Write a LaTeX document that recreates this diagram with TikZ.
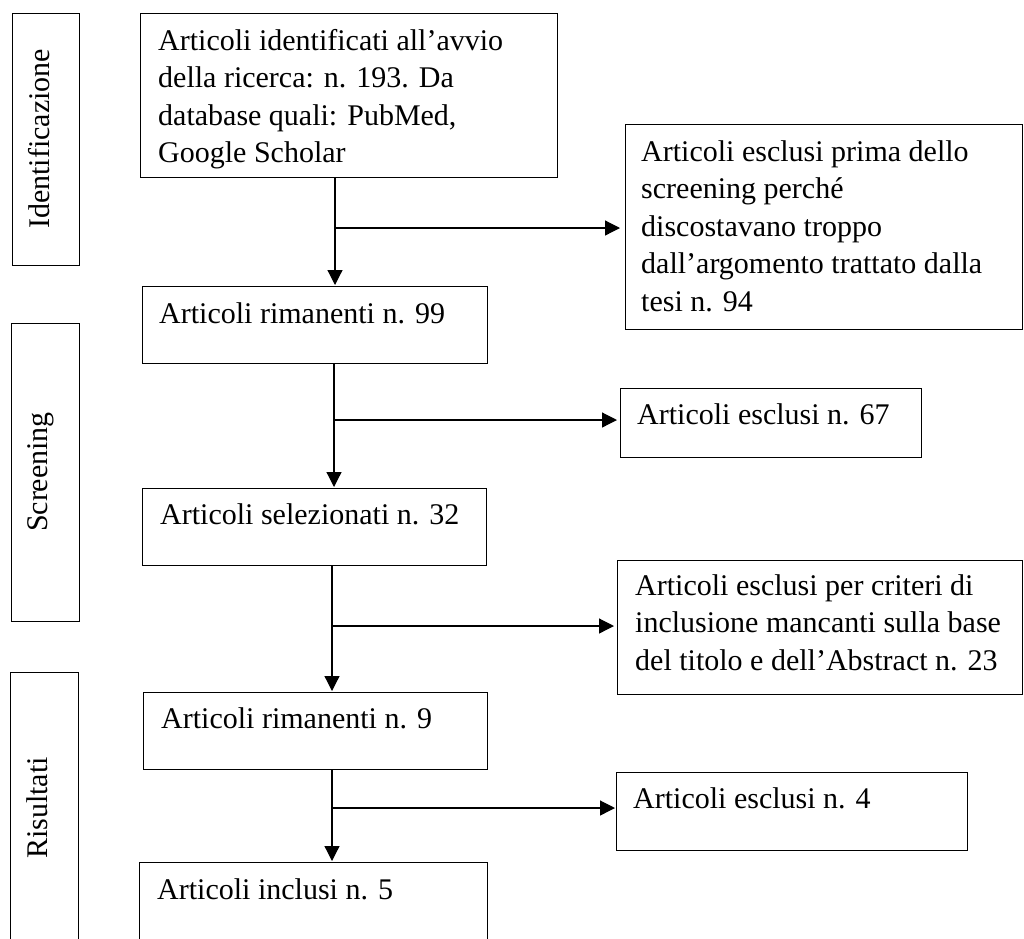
\documentclass[tikz,border=0pt]{standalone}
\usepackage{fontspec}
\setmainfont{Liberation Serif}
\usetikzlibrary{arrows.meta}
\newcommand{\boxlines}[1]{\parbox[t]{440pt}{#1}}
\begin{document}
\begin{tikzpicture}[x=1pt,y=-1pt,
  frame/.style={draw=black, line width=1.3pt, inner sep=0pt, anchor=north west},
  txt/.style={anchor=base west, inner sep=0pt, font=\fontsize{30}{37.5}\selectfont},
  lab/.style={anchor=base, rotate=90, inner sep=0pt, font=\fontsize{30}{36}\selectfont},
  arr/.style={draw=black, line width=1.2pt, -{Triangle[length=15pt,width=15pt]}}]
\useasboundingbox (0,0) rectangle (1024,938);

% phase frames
\node[frame, minimum width=67pt, minimum height=252pt] (L1) at (12,13) {};
\node[frame, minimum width=68pt, minimum height=298pt] (L2) at (11,323) {};
\node[frame, minimum width=68pt, minimum height=273pt] (L3) at (10,672) {};
\node[lab] (l1) at (49,139) {Identificazione};
\node[lab] (l2) at (47,472) {Screening};
\node[lab] (l3) at (47,808) {Risultati};

% main boxes
\node[frame, minimum width=417pt, minimum height=164pt] (B1) at (140,13) {};
\node[frame, minimum width=397pt, minimum height=205pt] (E1) at (625,124) {};
\node[frame, minimum width=345pt, minimum height=77pt] (B2) at (142,286) {};
\node[frame, minimum width=301pt, minimum height=69pt] (E2) at (620,388) {};
\node[frame, minimum width=344pt, minimum height=77pt] (B3) at (142,488) {};
\node[frame, minimum width=405pt, minimum height=134pt] (E3) at (617,560) {};
\node[frame, minimum width=344pt, minimum height=77pt] (B4) at (143,692) {};
\node[frame, minimum width=351pt, minimum height=78pt] (E4) at (616,772) {};
\node[frame, minimum width=348pt, minimum height=80pt] (B5) at (139,862) {};

% texts
\node[txt] (t1) at (158,50) {\boxlines{Articoli identificati all’avvio\\della ricerca: n. 193. Da\\database quali: PubMed,\\Google Scholar}};
\node[txt] (t1e) at (641,161) {\boxlines{Articoli esclusi prima dello\\screening perché\\discostavano troppo\\dall’argomento trattato dalla\\tesi n. 94}};
\node[txt] (t2) at (159,323) {Articoli rimanenti n. 99};
\node[txt] (t2e) at (637,424) {Articoli esclusi n. 67};
\node[txt] (t3) at (160,524) {Articoli selezionati n. 32};
\node[txt] (t3e) at (635,595) {\boxlines{Articoli esclusi per criteri di\\inclusione mancanti sulla base\\del titolo e dell’Abstract n. 23}};
\node[txt] (t4) at (161,728) {Articoli rimanenti n. 9};
\node[txt] (t4e) at (633,808) {Articoli esclusi n. 4};
\node[txt] (t5) at (157,899) {Articoli inclusi n. 5};

% connectors
\coordinate (j1) at (335,228);
\coordinate (j2) at (334,420);
\coordinate (j3) at (332,626);
\coordinate (j4) at (332,808);
\draw[arr, shorten >=1pt] (B1.south -| j1) -- (B2.north -| j1);
\draw[arr, shorten >=5pt] (j1) -- (E1.west |- j1);
\draw[arr, shorten >=1pt] (B2.south -| j2) -- (B3.north -| j2);
\draw[arr, shorten >=3pt] (j2) -- (E2.west |- j2);
\draw[arr, shorten >=1pt] (B3.south -| j3) -- (B4.north -| j3);
\draw[arr, shorten >=3pt] (j3) -- (E3.west |- j3);
\draw[arr, shorten >=1pt] (B4.south -| j4) -- (B5.north -| j4);
\draw[arr, shorten >=1pt] (j4) -- (E4.west |- j4);
\end{tikzpicture}
\end{document}
